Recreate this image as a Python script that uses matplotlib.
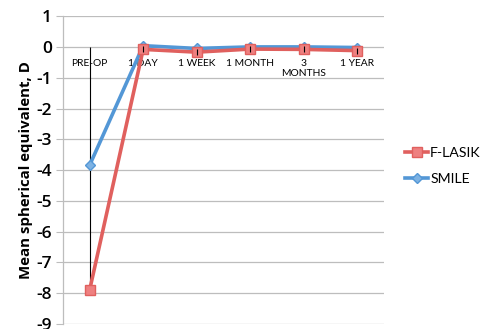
import matplotlib.pyplot as plt
import numpy as np

plt.rcParams['font.family'] = ['Lato', 'DejaVu Sans']
bold_font = ['Open Sans', 'DejaVu Sans']

# follow-up visits
visits = ['PRE-OP', '1 DAY', '1 WEEK', '1 MONTH', '3\nMONTHS', '1 YEAR']

# mean spherical equivalent (D) per group
flasik = [-7.89, -0.08, -0.17, -0.07, -0.08, -0.12]
smile = [-3.84, 0.04, -0.05, 0.0, 0.0, -0.02]

# spread shown on the F-LASIK points (lower, upper)
flasik_err_low = [0.0, 0.1, 0.1, 0.1, 0.1, 0.1]
flasik_err_high = [7.89, 0.1, 0.1, 0.1, 0.1, 0.1]

red = '#E0605E'
red_face = '#EE8080'
blue = '#5397D6'
blue_face = '#7DB2E3'

fig = plt.figure(figsize=(4.84, 3.29), dpi=100)
ax = fig.add_axes([0.130, 0.015, 0.663, 0.936])

x = np.arange(len(visits))

ax.errorbar(x, flasik, yerr=[flasik_err_low, flasik_err_high], fmt='none',
            ecolor='black', elinewidth=0.8, capsize=0, zorder=2)
ax.plot(x, smile, color=blue, lw=2.6, marker='D', ms=5.5,
        mfc=blue_face, mec=blue, mew=1, label='SMILE', zorder=3)
ax.plot(x, flasik, color=red, lw=2.6, marker='s', ms=7,
        mfc=red_face, mec=red, mew=1, label='F-LASIK', zorder=4)
ax.errorbar(x[1:], flasik[1:], yerr=[flasik_err_low[1:], flasik_err_high[1:]],
            fmt='none', ecolor='black', elinewidth=0.8, capsize=0, zorder=5)

ax.set_xlim(-0.5, len(visits) - 0.5)
ax.set_ylim(-9, 1)
ax.set_yticks(range(-9, 2))
ax.set_yticklabels([str(v) for v in range(-9, 2)], fontsize=12.5,
                   fontweight='semibold', family=bold_font)
ax.yaxis.grid(True, color='#BDBDBD', lw=0.9)
ax.set_axisbelow(True)

ax.spines['bottom'].set_position(('data', 0))
ax.spines['bottom'].set_visible(False)
ax.set_xticks(x)
ax.set_xticklabels(visits, linespacing=1.15)
ax.tick_params(axis='x', length=0, pad=9, labelsize=7.4)
ax.tick_params(axis='y', length=5, color='#BDBDBD', pad=3)
for s in ['top', 'right']:
    ax.spines[s].set_visible(False)
ax.spines['left'].set_color('#BDBDBD')
ax.spines['left'].set_linewidth(0.9)

ax.set_ylabel('Mean spherical equivalent, D', fontsize=10.8, fontweight='bold',
              family=bold_font, labelpad=2)

handles, labels = ax.get_legend_handles_labels()
fig.legend(handles[::-1], labels[::-1], loc='upper left', bbox_to_anchor=(0.826, 0.57),
           frameon=False, fontsize=10.2, handlelength=1.6, handletextpad=0.15,
           labelspacing=1.0, borderaxespad=0)

fig.savefig('out.png', dpi=100)
